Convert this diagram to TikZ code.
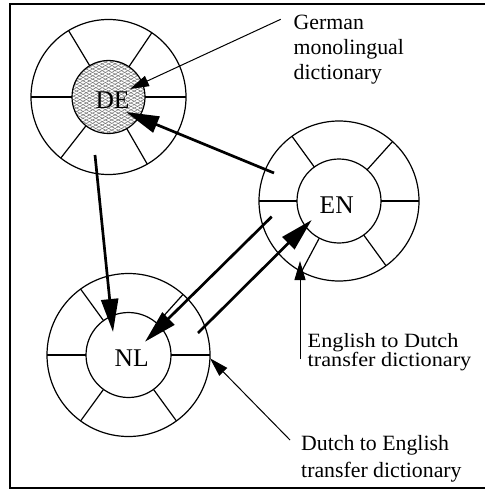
\documentclass[tikz,border=0pt]{standalone}
\usepackage{fontspec}
\setmainfont{Liberation Serif}
\usepackage{graphicx}
\usetikzlibrary{arrows.meta,patterns.meta,calc}

\tikzset{
  ring/.style={line width=1.2pt},
  flow/.style={line width=2.7pt, -{Triangle[length=33pt,width=17pt]}},
  callout/.style={line width=1pt, -{Triangle[length=19pt,width=11pt]}},
  lang/.style={font=\fontsize{25.5}{30}\selectfont, inner sep=0pt},
  note/.style={inner sep=0pt, anchor=base west, font=\fontsize{21.8}{25}\selectfont},
  frame/.style={line width=2pt},
}

% #1 name, #2 x, #3 y, #4 outer radius, #5 inner radius, #6 spoke angles
\newcommand\dictring[6]{%
  \coordinate (#1) at (#2,#3);
  \draw[ring] (#1) circle[radius=#4];
  \draw[ring] (#1) circle[radius=#5];
  \foreach \a in {#6}
    \draw[ring] ($(#1)+(\a:#5)$) -- ($(#1)+(\a:#4)$);
}

\begin{document}
\begin{tikzpicture}[x=1pt,y=-1pt]
  \useasboundingbox (0,0) rectangle (484,492);
  \draw[frame] (10.3,3.7) rectangle (487,488);

  % shaded core of the German dictionary
  \fill[white] (108.5,97) circle[radius=36.5];
  \fill[pattern={Lines[angle=28,distance=3pt,line width=0.5pt]}, pattern color=black!55]
    (108.5,97) circle[radius=36.5];
  \fill[pattern={Lines[angle=-28,distance=3pt,line width=0.5pt]}, pattern color=black!55]
    (108.5,97) circle[radius=36.5];

  \dictring{DE}{108.5}{97}{77.5}{36.5}{0,-56,-121,180,128,60}
  \dictring{EN}{339}{201}{80}{42}{0,-48,-126,180,118,54}
  \dictring{NL}{128.5}{355}{81.5}{42.5}{0,-48,-126,180,126,54}

  \node[lang] (de-label) at (112.5,100.5) {DE};
  \node[lang] (en-label) at (336.7,204.7) {EN};
  \node[lang] (nl-label) at (131.7,358) {NL};

  % dictionary labels
  \node[note] (german) at (293.5,29.3)
    {\begin{tabular}[t]{@{}l@{}}German\\monolingual\\dictionary\end{tabular}};
  \node[note] (en-nl-note) at (307.5,347.3)
    {\scalebox{1.02}[0.93]{\fontsize{21.8}{19.1}\selectfont
     \begin{tabular}[t]{@{}l@{}}English to Dutch\\transfer dictionary\end{tabular}}};
  \node[note, font=\fontsize{21.8}{26.5}\selectfont] (nl-en-note) at (301,450.5)
    {\begin{tabular}[t]{@{}l@{}}Dutch to English\\transfer dictionary\end{tabular}};

  % translation paths
  \coordinate (de-out) at (95,155);
  \coordinate (nl-in) at (113,332);
  \coordinate (en-out1) at (274,173);
  \coordinate (de-in) at (126,112);
  \coordinate (en-out2) at (271.7,216.7);
  \coordinate (nl-in2) at (145,341.7);
  \coordinate (nl-out) at (198,333);
  \coordinate (en-in) at (311.7,220);
  \draw[flow] (de-out) -- (nl-in);
  \draw[flow] (en-out1) -- (de-in);
  \draw[flow] (en-out2) -- (nl-in2);
  \draw[flow] (nl-out) -- (en-in);

  % callouts from the labels
  \coordinate (german-tail) at (280.7,19.3);
  \coordinate (de-core) at (130,89);
  \coordinate (en-nl-tail) at (300,359);
  \coordinate (en-rim) at (300,261);
  \coordinate (nl-en-tail) at (290,440);
  \coordinate (nl-rim) at (210,358.3);
  \draw[callout] (german-tail) -- (de-core);
  \draw[callout] (en-nl-tail) -- (en-rim);
  \draw[callout] (nl-en-tail) -- (nl-rim);
\end{tikzpicture}
\end{document}
